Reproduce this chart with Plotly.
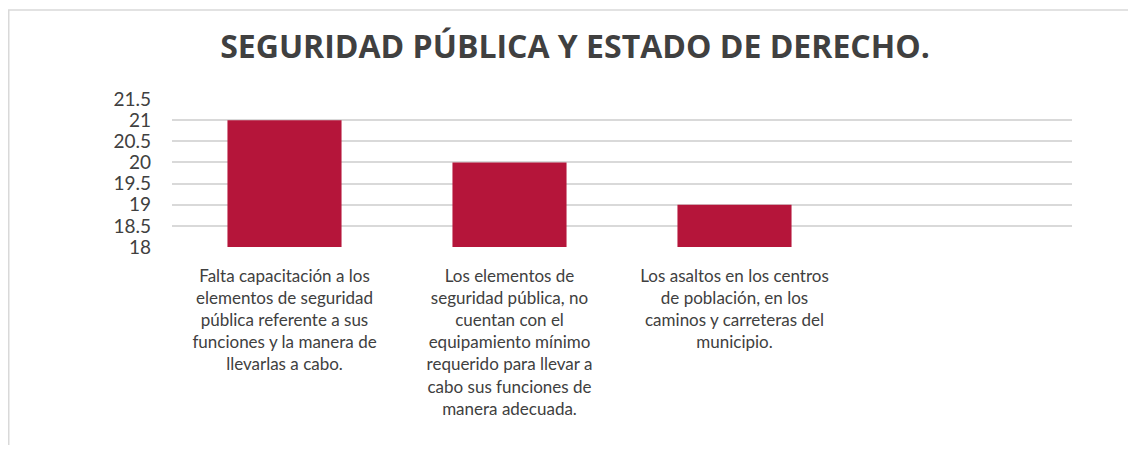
import plotly.graph_objects as go

# Datos del gráfico
categorias = [
    "Falta capacitación a los<br>elementos de seguridad<br>pública referente a sus<br>funciones y la manera de<br>llevarlas a cabo.",
    "Los elementos de<br>seguridad pública, no<br>cuentan con el<br>equipamiento mínimo<br>requerido para llevar a<br>cabo sus funciones de<br>manera adecuada.",
    "Los asaltos en los centros<br>de población, en los<br>caminos y carreteras del<br>municipio.",
    " ",
]
valores = [21, 20, 19, None]
ticks_y = [18, 18.5, 19, 19.5, 20, 20.5, 21, 21.5]

# la página deja 8 px de margen en el body
W, H = 1120, 437
L, T = 164, 91
pw, ph = 900, 148
R, B = W - L - pw, H - T - ph

fig = go.Figure(go.Bar(
    x=categorias,
    y=valores,
    marker=dict(color="#B5153A", line=dict(width=0)),
    width=0.507,
    hoverinfo="y",
))

# marco exterior (gris claro)
fig.add_shape(
    type="rect", xref="paper", yref="paper", layer="below",
    x0=(0.75 - L) / pw, x1=(W + 20 - L) / pw,
    y0=(T + ph - (H + 20)) / ph, y1=(T + ph - 2) / ph,
    line=dict(color="#D9D9D9", width=1.5), fillcolor="rgba(0,0,0,0)",
)

fig.update_layout(
    width=W, height=H,
    margin=dict(l=L, r=R, t=T, b=B),
    paper_bgcolor="white", plot_bgcolor="white",
    font=dict(family="Lato", color="#404040"),
    title=dict(
        text="<b>SEGURIDAD PÚBLICA Y ESTADO DE DERECHO.</b>",
        x=(575 - 8 - L) / pw, xref="paper", xanchor="center",
        y=1 - 39 / H, yanchor="middle",
        font=dict(family="Open Sans", size=32, color="#404040"),
    ),
    showlegend=False,
    xaxis=dict(
        type="category", range=[-0.5, 3.5],
        tickfont=dict(size=17, color="#404040"),
        showgrid=False, zeroline=False, showline=False, ticks="",
        ticklabelstandoff=17,
    ),
    yaxis=dict(
        range=[18, 21.5], tickvals=ticks_y,
        ticktext=[f"{v:g}" for v in ticks_y],
        tickfont=dict(size=19, color="#404040"),
        showgrid=True, gridcolor="#D9D9D9", gridwidth=1.5,
        zeroline=False, showline=False, ticks="", ticklabelstandoff=20,
    ),
)

fig.write_html("out.html")
